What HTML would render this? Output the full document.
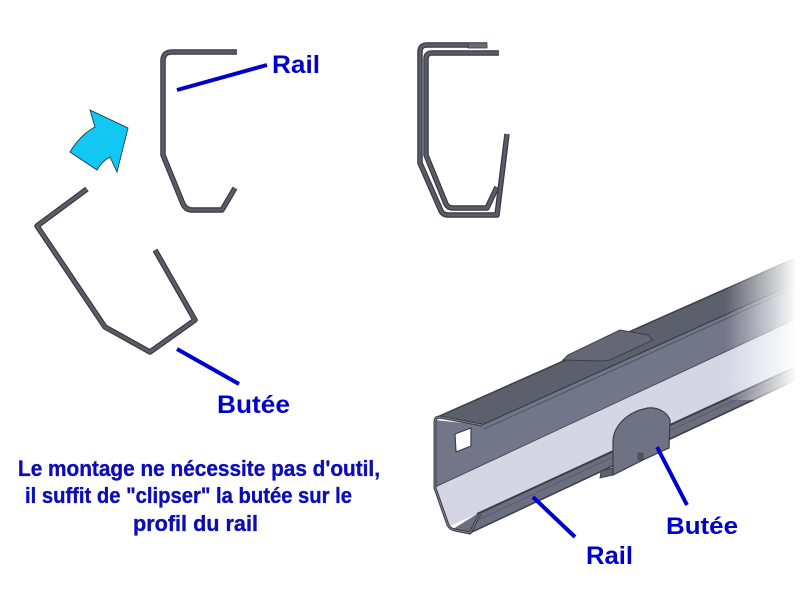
<!DOCTYPE html>
<html>
<head>
<meta charset="utf-8">
<style>
  html, body { margin: 0; padding: 0; background: #ffffff; }
  body { width: 800px; height: 600px; overflow: hidden; }
  svg { display: block; }
  .lbl { font-family: "Liberation Sans", Arial, sans-serif; font-weight: bold; fill: #0000cc; }
  .txt { font-family: "Liberation Sans", Arial, sans-serif; font-weight: bold; fill: #0c0cb8; stroke: #0c0cb8; stroke-width: 0.35; }
</style>
</head>
<body>
<svg width="800" height="600" viewBox="0 0 800 600" xmlns="http://www.w3.org/2000/svg">
  <defs>
    <linearGradient id="fade" x1="725" y1="0" x2="797" y2="0" gradientUnits="userSpaceOnUse">
      <stop offset="0" stop-color="#ffffff" stop-opacity="0"/>
      <stop offset="1" stop-color="#ffffff" stop-opacity="1"/>
    </linearGradient>
  </defs>
  <rect width="800" height="600" fill="#ffffff"/>

  <!-- ===== Top-left: Rail profile ===== -->
  <g fill="none" stroke-linejoin="round" stroke-linecap="butt">
    <path d="M237,52 L172,52 Q163,52 163,61 L163,155 L183,204 Q186,210 192,210 L222,210 L235,188" stroke="#393a43" stroke-width="5.5"/>
    <path d="M237,52 L172,52 Q163,52 163,61 L163,155 L183,204 Q186,210 192,210 L222,210 L235,188" stroke="#5a5c67" stroke-width="3"/>
  </g>

  <!-- cyan arrow -->
  <path d="M90,110 L128,128 L117,172 L110,157 Q102,161 97,170 L70,152 Q80,135 95,127 Z" fill="#10c8f2" stroke="#1a2a3a" stroke-width="0.8"/>

  <!-- ===== Left: Butée profile ===== -->
  <g fill="none" stroke-linejoin="round">
    <path d="M87,189 L37,226 L105,327 L150,352 L195,320 L155,250" stroke="#393a43" stroke-width="5.5"/>
    <path d="M87,189 L37,226 L105,327 L150,352 L195,320 L155,250" stroke="#5a5c67" stroke-width="3"/>
  </g>

  <!-- ===== Top-right: assembled profiles ===== -->
  <g fill="none" stroke-linejoin="round">
    <path d="M487,45 L427,45 Q420,45 420,52 L420,163 L441,211 Q443,215 448,215 L497,215 L507,134" stroke="#393a43" stroke-width="5.5"/>
    <path d="M487,45 L427,45 Q420,45 420,52 L420,163 L441,211 Q443,215 448,215 L497,215 L507,134" stroke="#5a5c67" stroke-width="3"/>
    <path d="M499,53 L432,53 Q426,53 426,59 L426,155 L446,204 Q448,208 453,208 L487,208 L497,187" stroke="#393a43" stroke-width="5.5"/>
    <path d="M499,53 L432,53 Q426,53 426,59 L426,155 L446,204 Q448,208 453,208 L487,208 L497,187" stroke="#5a5c67" stroke-width="3"/>
  </g>
  <rect x="468" y="43" width="19" height="5" fill="#6a6c77" stroke="#393a43" stroke-width="0.8"/>

  <!-- ===== 3D rail ===== -->
  <polygon points="435,418 800,256 800,281 482,425" fill="#5c5f6c"/>
  <polygon points="435,420 482,425 800,281 800,317 435,487" fill="#737689"/>
  <polygon points="435,487 800,317 800,365 477,514 450,526 435,490" fill="#d4d6e4"/>
  <polygon points="477,514 800,365 800,378 470,533 453,529" fill="#6b6e7e"/>
  <line x1="435" y1="418" x2="800" y2="256" stroke="#3a3c46" stroke-width="1.5"/>
  <line x1="482" y1="425" x2="800" y2="281" stroke="#3a3c46" stroke-width="1.2"/>
  <line x1="484" y1="429" x2="800" y2="285" stroke="#4a4c58" stroke-width="0.9"/>
  <line x1="435" y1="487" x2="800" y2="317" stroke="#4a4d5a" stroke-width="1"/>
  <line x1="477" y1="514" x2="800" y2="365" stroke="#3b3d48" stroke-width="2"/>
  <line x1="480" y1="519" x2="800" y2="370" stroke="#55586a" stroke-width="0.8"/>
  <line x1="470" y1="533" x2="800" y2="378" stroke="#3b3d48" stroke-width="1.5"/>

  <!-- tab on top -->
  <polygon points="563,360 568,355 620,330 648,335 653,340 610,360 603,361" fill="#646775" stroke="#3d3f4a" stroke-width="1"/>

  <!-- profile end outline -->
  <path d="M482,425 L440,417 Q435,417 435,422 L435,488 L448,525 Q450,529 455,530 L470,533 L480,514" fill="none" stroke="#3b3d47" stroke-width="3" stroke-linejoin="round"/>
  <path d="M482,425 L440,417 Q435,417 435,422 L435,488 L448,525 Q450,529 455,530 L470,533 L480,514" fill="none" stroke="#8e91a0" stroke-width="0.8" stroke-linejoin="round"/>

  <!-- square hole -->
  <polygon points="455,434 471,428 471,446 456,452" fill="#ffffff" stroke="#3a3c46" stroke-width="1.2"/>

  <!-- butée on rail -->
  <path d="M600,478 L613,475 L613,468 L601,471 Z" fill="#5d606e" stroke="#3a3c46" stroke-width="0.8"/>
  <path d="M613,475 L613,442 C613,428 625,412 648,408 C658,407 667,412 670,420 L669,448 L643,460 Z" fill="#6f7283" stroke="#3a3c46" stroke-width="1.2"/>
  <rect x="638" y="453" width="5" height="7" fill="#505363" stroke="#3a3c46" stroke-width="0.6"/>

  <!-- fade on right -->
  <rect x="720" y="240" width="80" height="160" fill="url(#fade)"/>

  <!-- ===== Leader lines ===== -->
  <g stroke="#0000cc" stroke-width="4" stroke-linecap="butt">
    <line x1="177" y1="90" x2="267" y2="65"/>
    <line x1="177" y1="349" x2="239" y2="384"/>
    <line x1="657" y1="447" x2="687" y2="505"/>
    <line x1="533" y1="497" x2="575" y2="537"/>
  </g>

  <!-- ===== Labels ===== -->
  <text class="lbl" x="272" y="73" font-size="25" textLength="48" lengthAdjust="spacingAndGlyphs">Rail</text>
  <text class="lbl" x="217" y="413" font-size="25" textLength="73" lengthAdjust="spacingAndGlyphs">Butée</text>
  <text class="lbl" x="666" y="534" font-size="24" textLength="72" lengthAdjust="spacingAndGlyphs">Butée</text>
  <text class="lbl" x="586" y="564" font-size="25" textLength="47" lengthAdjust="spacingAndGlyphs">Rail</text>

  <!-- ===== Main text ===== -->
  <text class="txt" x="18" y="476" font-size="22" textLength="362" lengthAdjust="spacingAndGlyphs">Le montage ne nécessite pas d'outil,</text>
  <text class="txt" x="25" y="503" font-size="22" textLength="327" lengthAdjust="spacingAndGlyphs">il suffit de "clipser" la butée sur le</text>
  <text class="txt" x="133" y="531" font-size="22" textLength="125" lengthAdjust="spacingAndGlyphs">profil du rail</text>
</svg>
</body>
</html>
